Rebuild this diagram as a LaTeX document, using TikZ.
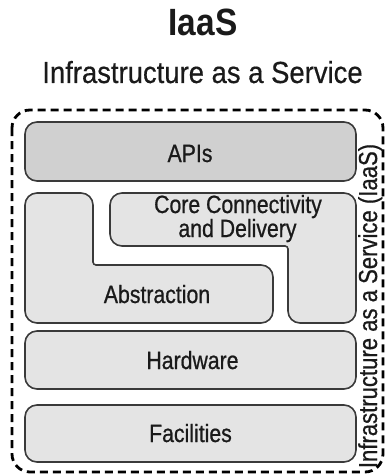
\documentclass[tikz,border=0pt]{standalone}
\usepackage{fontspec}
\setmainfont{Liberation Sans}
\newfontfamily\labelfont[FakeStretch=0.85,FakeBold=0.7]{Liberation Sans}
\newfontfamily\subfont[FakeStretch=0.9,FakeBold=0.5]{Liberation Sans}
\newfontfamily\headfont[FakeStretch=0.88]{Liberation Sans Bold}
\definecolor{boxline}{HTML}{3A3A3A}
\definecolor{apifill}{HTML}{D0D0D0}
\definecolor{layerfill}{HTML}{E4E4E4}
\definecolor{inktext}{HTML}{1A1A1A}
\tikzset{
  layer/.style={draw=boxline, line width=1.6pt, fill=layerfill, rounded corners=12pt},
  layerlabel/.style={anchor=base, inner sep=0pt, text=inktext,
    font=\labelfont\fontsize{25}{27}\selectfont},
  frame/.style={draw=black, line width=2.8pt, dash pattern=on 8pt off 5pt, rounded corners=18pt},
}
\begin{document}
\begin{tikzpicture}[x=1pt, y=-1pt]
  \useasboundingbox (0,0) rectangle (387,476);

  % headings
  \node[anchor=base, inner sep=0pt, text=inktext, font=\headfont\fontsize{38}{40}\selectfont] (title) at (203,36) {IaaS};
  \node[anchor=base, inner sep=0pt, text=inktext, font=\subfont\fontsize{30.5}{32}\selectfont] (subtitle) at (202.5,83) {Infrastructure as a Service};

  % dashed boundary of the service
  \path[frame] (12,110) rectangle (383,472);

  % APIs layer
  \path[layer, fill=apifill] (25,122) rectangle (356,181);
  \node[layerlabel] (apis) at (190,162) {APIs};

  % abstraction (L shape)
  \path[layer] (25,258) [rounded corners=12pt] -- (25,193) -- (93,193) [rounded corners=3pt] -- (93,265)
     [rounded corners=12pt] -- (273,265) -- (273,323) -- (25,323) -- cycle;
  \node[layerlabel] (abstraction) at (157,303) {Abstraction};

  % core connectivity and delivery (reversed L shape)
  \path[layer] (110,220) [rounded corners=12pt] -- (110,193) -- (356,193) -- (356,323) -- (288,323)
     [rounded corners=3pt] -- (288,246) [rounded corners=12pt] -- (110,246) -- cycle;
  \node[layerlabel] (core) at (238,213) {Core Connectivity};
  \node[layerlabel] (delivery) at (237.5,237) {and Delivery};

  % hardware and facilities
  \path[layer] (25,331) rectangle (356,389);
  \node[layerlabel] (hardware) at (192.5,369) {Hardware};
  \path[layer] (25,405) rectangle (356,462);
  \node[layerlabel] (facilities) at (190.5,442) {Facilities};

  % side caption
  \node[layerlabel, rotate=90, font=\labelfont\fontsize{26}{28}\selectfont] (side) at (377,306) {Infrastructure as a Service (IaaS)};
\end{tikzpicture}
\end{document}
